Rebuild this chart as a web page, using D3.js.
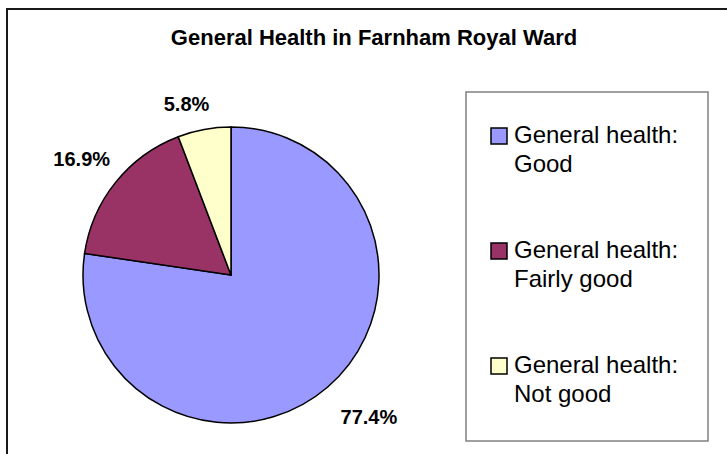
<!DOCTYPE html>
<html>
<head>
<meta charset="utf-8">
<script src="https://cdn.jsdelivr.net/npm/d3@7"></script>
<style>
  body { margin: 0; background: #fff; }
  svg { display: block; font-family: "Liberation Sans", Arial, sans-serif; }
</style>
</head>
<body>
<svg id="chart" width="727" height="454"></svg>
<script>
// chart data
var categories = ["General health: Good", "General health: Fairly good", "General health: Not good"];
var legendLines = [["General health:", "Good"], ["General health:", "Fairly good"], ["General health:", "Not good"]];
var values = [77.4, 16.9, 5.8];
var colours = ["#9999ff", "#993366", "#ffffcc"];
var title = "General Health in Farnham Royal Ward";

// where each percentage label sits (Excel best-fit placement)
var labelRadius = [188, 185, 174];
var labelShiftX = [15, -5, -13];

var svg = d3.select("#chart");

// outer chart frame (runs off the right and bottom edge)
svg.append("rect")
   .attr("x", 7).attr("y", 9)
   .attr("width", 760).attr("height", 480)
   .attr("fill", "#fff")
   .attr("stroke", "#1a1a1a")
   .attr("stroke-width", 2);

svg.append("text")
   .attr("x", 374).attr("y", 45)
   .attr("text-anchor", "middle")
   .style("font-size", "22px")
   .style("font-weight", "bold")
   .text(title);

var cx = 231, cy = 275, r = 148;

var pie = d3.pie().sort(null).value(function(d) { return d; });
var arc = d3.arc().innerRadius(0).outerRadius(r);
var color = d3.scaleOrdinal().domain(categories).range(colours);

var g = svg.append("g").attr("transform", "translate(" + cx + "," + cy + ")");
var arcs = pie(values);

g.selectAll("path")
 .data(arcs)
 .enter()
 .append("path")
 .attr("d", arc)
 .attr("fill", function(d, i) { return color(categories[i]); })
 .attr("stroke", "#000")
 .attr("stroke-width", 1.5);

g.selectAll("text.pct")
 .data(arcs)
 .enter()
 .append("text")
 .attr("class", "pct")
 .attr("transform", function(d, i) {
   var p = d3.arc().innerRadius(labelRadius[i]).outerRadius(labelRadius[i]).centroid(d);
   return "translate(" + (p[0] + labelShiftX[i]) + "," + p[1] + ")";
 })
 .attr("text-anchor", "middle")
 .attr("dy", "0.36em")
 .style("font-size", "20px")
 .style("font-weight", "bold")
 .text(function(d) { return d.data.toFixed(1) + "%"; });

// legend
var lx = 466, ly = 92, lw = 242, lh = 349;
svg.append("rect")
   .attr("x", lx).attr("y", ly)
   .attr("width", lw).attr("height", lh)
   .attr("fill", "#fff")
   .attr("stroke", "#808080")
   .attr("stroke-width", 1.5);

var rowY = d3.scalePoint().domain(categories).range([143, 373]);

var item = svg.selectAll("g.legend")
  .data(categories)
  .enter()
  .append("g")
  .attr("class", "legend")
  .attr("transform", function(d) { return "translate(" + (lx + 25) + "," + rowY(d) + ")"; });

item.append("rect")
    .attr("x", 0).attr("y", -15)
    .attr("width", 16).attr("height", 16)
    .attr("fill", function(d) { return color(d); })
    .attr("stroke", "#000")
    .attr("stroke-width", 1.5);

item.append("text")
    .style("font-size", "24px")
    .selectAll("tspan")
    .data(function(d, i) { return legendLines[i]; })
    .enter()
    .append("tspan")
    .attr("x", 23)
    .attr("dy", function(d, i) { return i === 0 ? 0 : 29; })
    .text(function(d) { return d; });
</script>
</body>
</html>
